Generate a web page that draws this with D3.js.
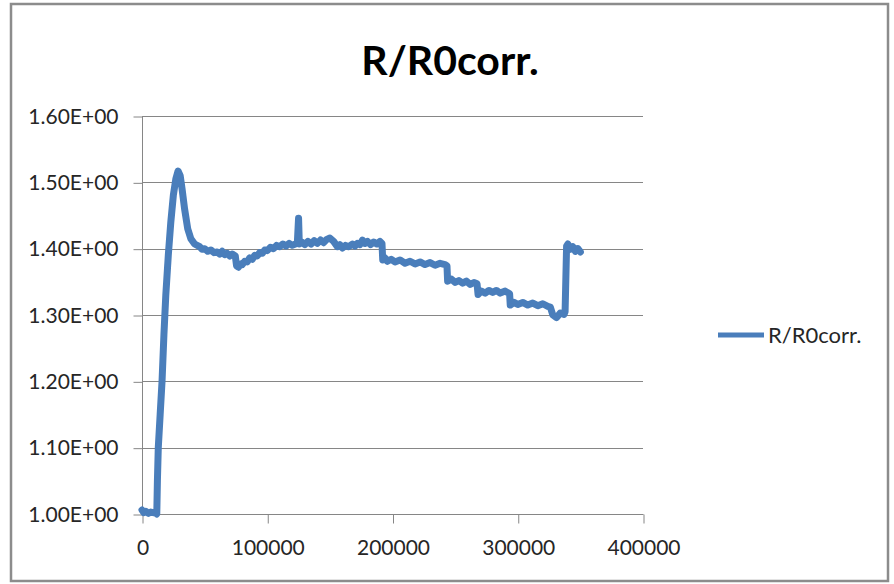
<!DOCTYPE html>
<html>
<head>
<meta charset="utf-8">
<script src="https://cdn.jsdelivr.net/npm/d3@7/dist/d3.min.js"></script>
<style>
  html, body { margin: 0; padding: 0; background: #fff; }
  svg { display: block; }
  text { font-family: Lato, "Open Sans", sans-serif; }
</style>
</head>
<body>
<svg id="chart" width="894" height="584"></svg>
<script>
const title = "R/R0corr.";
const seriesName = "R/R0corr.";
const xTicks = [0, 100000, 200000, 300000, 400000];
const yTicks = [1.0, 1.1, 1.2, 1.3, 1.4, 1.5, 1.6];
const xValues = [0,1500,3000,5000,7000,9000,11000,11800,12300,13000,14500,16000,17500,19000,21000,23000,25000,27000,28800,30500,32000,34000,36500,39000,42000,46000,48000,50000,52500,55000,57500,60000,62000,64000,66000,68000,70000,72000,74500,75500,77000,79000,80000,82000,84000,86000,88000,90000,92000,94000,96000,98000,100000,102500,105000,107500,110000,112500,115000,117500,120000,124000,125000,125600,127500,130000,132500,135000,137500,140000,142500,145000,147500,150000,153000,156000,158000,160000,162500,165000,168000,170000,172000,174000,176000,178000,180000,182500,185000,187500,190000,191600,192200,194000,196000,199000,202000,206000,210000,214000,218000,222000,226000,230000,234000,238000,242000,243500,244000,247000,250000,253000,256000,259000,262000,265000,267500,268300,271000,274000,277000,280000,283000,286000,290000,293500,294000,297000,300000,304000,308000,312000,316000,320000,324000,326000,328000,331000,334000,337000,337800,339000,340000,342000,344000,346000,348000,350000];
const yValues = [1.006,1.002,1.004,1.001,1.003,1.002,1.003,1.000,1.05,1.10,1.15,1.20,1.27,1.33,1.39,1.44,1.48,1.505,1.517,1.51,1.49,1.46,1.43,1.415,1.407,1.403,1.399,1.400,1.396,1.398,1.394,1.395,1.392,1.396,1.391,1.393,1.389,1.392,1.389,1.374,1.372,1.377,1.376,1.381,1.380,1.386,1.384,1.390,1.389,1.394,1.393,1.398,1.397,1.402,1.400,1.405,1.403,1.407,1.404,1.408,1.405,1.408,1.446,1.407,1.410,1.406,1.411,1.407,1.412,1.408,1.413,1.409,1.414,1.416,1.411,1.403,1.406,1.401,1.405,1.403,1.407,1.404,1.408,1.406,1.413,1.408,1.411,1.406,1.410,1.407,1.411,1.408,1.383,1.386,1.381,1.384,1.380,1.383,1.378,1.381,1.377,1.380,1.376,1.379,1.375,1.378,1.376,1.374,1.351,1.354,1.349,1.352,1.348,1.351,1.346,1.349,1.347,1.331,1.336,1.333,1.337,1.334,1.337,1.333,1.336,1.332,1.315,1.319,1.316,1.319,1.315,1.318,1.314,1.317,1.313,1.312,1.300,1.296,1.303,1.301,1.305,1.404,1.407,1.399,1.403,1.396,1.400,1.395,1.398,1.394];

const data = xValues.map((x, i) => ({x, y: yValues[i]}));
const svg = d3.select("#chart");

// outer frame
svg.append("rect").attr("x", 11).attr("y", 4).attr("width", 877).attr("height", 577)
  .attr("fill", "#fff").attr("stroke", "#8c8c8c").attr("stroke-width", 2.5);

const x = d3.scaleLinear().domain([0, 400000]).range([142, 643]);
const y = d3.scaleLinear().domain([1.0, 1.6]).range([514, 116]);

// gridlines
svg.append("g").selectAll("line").data(yTicks.slice(1)).join("line")
  .attr("x1", 142).attr("x2", 643)
  .attr("y1", d => Math.round(y(d)) + 0.5).attr("y2", d => Math.round(y(d)) + 0.5)
  .attr("stroke", "#868686").attr("stroke-width", 1);

// y axis
const yAxis = svg.append("g").attr("transform", "translate(142.5,0.5)")
  .call(d3.axisLeft(y).tickValues(yTicks).tickSize(9).tickPadding(15)
    .tickFormat(d => d3.format(".2f")(d) + "E+00"));
yAxis.select(".domain").attr("stroke", "#868686").attr("d", `M0,${y(1.6)}V${y(1.0)}`);
yAxis.selectAll(".tick line").attr("stroke", "#868686");
yAxis.selectAll(".tick text").attr("font-size", 21).attr("fill", "#262626")
  .attr("font-family", "Lato, sans-serif");

// x axis
const xAxis = svg.append("g").attr("transform", "translate(0.5,514.5)")
  .call(d3.axisBottom(x).tickValues(xTicks).tickSize(9).tickPadding(17)
    .tickFormat(d3.format("d")));
xAxis.select(".domain").attr("stroke", "#868686").attr("d", `M${x(0)},0H${x(400000)}`);
xAxis.selectAll(".tick line").attr("stroke", "#868686");
xAxis.selectAll(".tick text").attr("font-size", 21).attr("fill", "#262626")
  .attr("font-family", "Lato, sans-serif");

// series
const line = d3.line().x(d => x(d.x)).y(d => y(d.y));
svg.append("path").datum(data).attr("d", line)
  .attr("fill", "none").attr("stroke", "#4a7ebb").attr("stroke-width", 7)
  .attr("stroke-linejoin", "round").attr("stroke-linecap", "round");

// title
svg.append("text").attr("x", 450).attr("y", 75).attr("text-anchor", "middle")
  .attr("font-size", 41).attr("font-weight", "bold").attr("fill", "#000").text(title);

// legend
svg.append("line").attr("x1", 718).attr("x2", 764).attr("y1", 335).attr("y2", 335)
  .attr("stroke", "#4a7ebb").attr("stroke-width", 5);
svg.append("text").attr("x", 768).attr("y", 335).attr("dy", "0.35em")
  .attr("font-size", 22).attr("fill", "#262626").text(seriesName);
</script>
</body>
</html>
